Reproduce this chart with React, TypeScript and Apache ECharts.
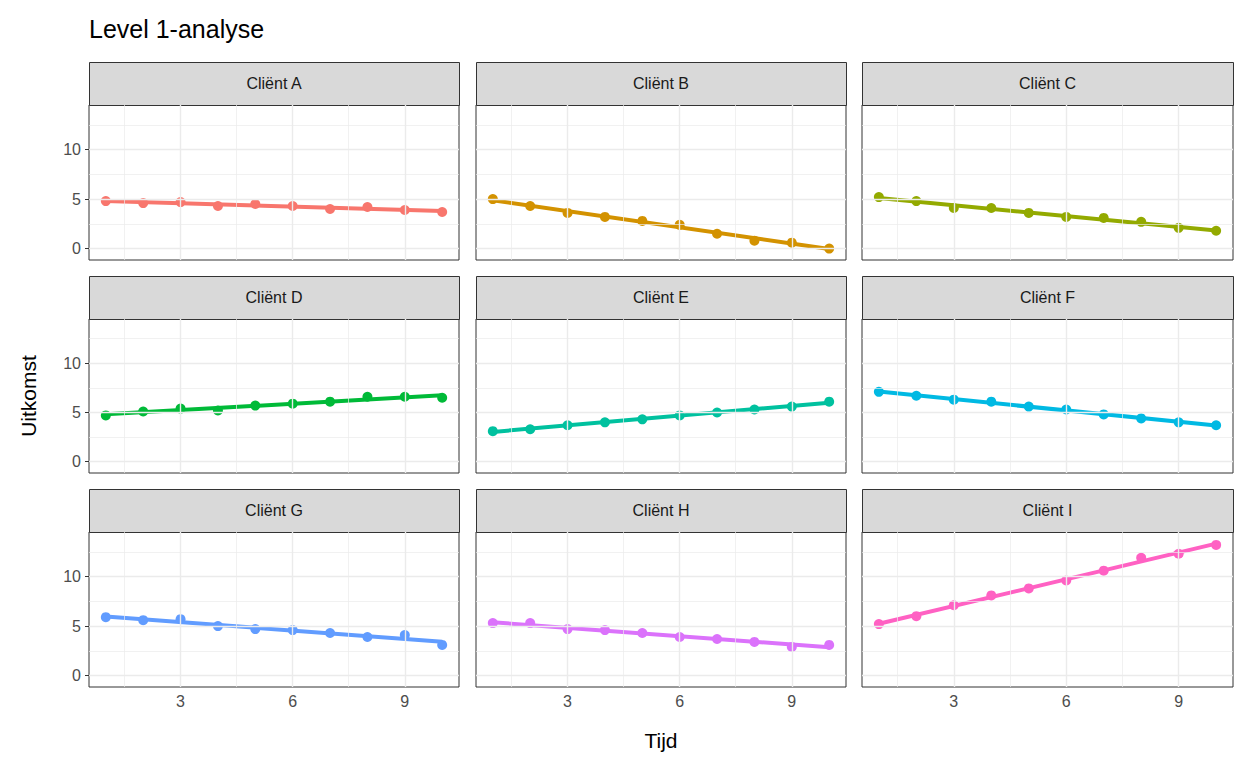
import React, { useEffect, useRef } from 'react';
import * as echarts from 'echarts';

const clients = ['Cliënt A', 'Cliënt B', 'Cliënt C', 'Cliënt D', 'Cliënt E', 'Cliënt F', 'Cliënt G', 'Cliënt H', 'Cliënt I'];
const tijd = [1, 2, 3, 4, 5, 6, 7, 8, 9, 10];
const values = [
  [4.8, 4.6, 4.7, 4.3, 4.5, 4.3, 4.0, 4.2, 3.9, 3.7],
  [5.0, 4.3, 3.6, 3.2, 2.8, 2.4, 1.5, 0.8, 0.6, 0.0],
  [5.2, 4.8, 4.1, 4.1, 3.6, 3.2, 3.1, 2.7, 2.1, 1.8],
  [4.7, 5.1, 5.4, 5.2, 5.7, 5.9, 6.1, 6.6, 6.6, 6.5],
  [3.1, 3.3, 3.7, 4.0, 4.3, 4.7, 5.0, 5.3, 5.6, 6.1],
  [7.1, 6.7, 6.3, 6.1, 5.6, 5.3, 4.8, 4.4, 4.0, 3.7],
  [5.9, 5.6, 5.7, 5.0, 4.7, 4.6, 4.3, 3.9, 4.1, 3.1],
  [5.3, 5.3, 4.7, 4.6, 4.3, 3.9, 3.7, 3.4, 2.9, 3.1],
  [5.2, 6.0, 7.1, 8.1, 8.8, 9.6, 10.6, 11.9, 12.3, 13.2],
];
const colors = ['#F8766D', '#D39200', '#93AA00', '#00BA38', '#00C19F', '#00B9E3', '#619CFF', '#DB72FB', '#FF61C3'];
const yTicks = [0, 5, 10];
const xTicks = [3, 6, 9];
const yGrid = [0, 2.5, 5, 7.5, 10, 12.5];
const xGrid = [1.5, 3, 4.5, 6, 7.5, 9, 10.5];

function fit(ys: number[]) {
  const n = tijd.length;
  const mx = tijd.reduce((a, b) => a + b, 0) / n;
  const my = ys.reduce((a, b) => a + b, 0) / n;
  let sxy = 0, sxx = 0;
  tijd.forEach((x, i) => { sxy += (x - mx) * (ys[i] - my); sxx += (x - mx) ** 2; });
  const b = sxy / sxx;
  return [[tijd[0], my + b * (tijd[0] - mx)], [tijd[n - 1], my + b * (tijd[n - 1] - mx)]];
}

const App: React.FC = () => {
  const ref = useRef<HTMLDivElement>(null);

  useEffect(() => {
    if (!ref.current) return;
    const chart = echarts.init(ref.current, null, { renderer: 'svg' });
    const lefts = [89, 476, 862];
    const widths = [370, 370, 371];
    const tops = [105, 319, 532];
    const heights = [155, 154, 155];
    const grids: any[] = [], xAxes: any[] = [], yAxes: any[] = [], series: any[] = [], graphic: any[] = [];

    clients.forEach((name, i) => {
      const r = Math.floor(i / 3), c = i % 3;
      grids.push({ left: lefts[c], top: tops[r], width: widths[c], height: heights[r], show: true, borderColor: '#333', borderWidth: 1, backgroundColor: '#fff' });
      xAxes.push({
        gridIndex: i, type: 'value', min: 0.55, max: 10.45,
        splitLine: { show: false }, axisLine: { show: false },
        axisTick: { show: r === 2, customValues: xTicks, length: 4, lineStyle: { color: '#333' } },
        axisLabel: { show: r === 2, customValues: xTicks, color: '#4d4d4d', fontSize: 16, margin: 6 },
      });
      yAxes.push({
        gridIndex: i, type: 'value', min: -1.15, max: 14.5,
        splitLine: { show: false }, axisLine: { show: false },
        axisTick: { show: c === 0, customValues: yTicks, length: 4, lineStyle: { color: '#333' } },
        axisLabel: { show: c === 0, customValues: yTicks, color: '#4d4d4d', fontSize: 16, margin: 8 },
      });
      const gl = (v: number, k: 'xAxis' | 'yAxis') => ({
        [k]: v, lineStyle: { color: '#ebebeb', width: (k === 'yAxis' ? v % 5 === 0 : v % 3 === 0) ? 1.4 : 0.7, type: 'solid' },
      });
      series.push({
        type: 'line', xAxisIndex: i, yAxisIndex: i, data: [], silent: true, z: 1,
        markLine: { silent: true, symbol: 'none', label: { show: false }, animation: false,
          data: [...yGrid.map((v) => gl(v, 'yAxis')), ...xGrid.map((v) => gl(v, 'xAxis'))] },
      });
      series.push({
        type: 'scatter', xAxisIndex: i, yAxisIndex: i, data: tijd.map((x, k) => [x, values[i][k]]),
        symbolSize: 10, itemStyle: { color: colors[i], opacity: 1 }, z: 3,
      });
      series.push({
        type: 'line', xAxisIndex: i, yAxisIndex: i, data: fit(values[i]), showSymbol: false,
        lineStyle: { color: colors[i], width: 4 }, z: 4,
      });
      graphic.push({ type: 'rect', shape: { x: lefts[c] + 0.5, y: tops[r] - 43 + 0.5, width: widths[c], height: 43 },
        style: { fill: '#d9d9d9', stroke: '#333', lineWidth: 1 } });
      graphic.push({ type: 'text', x: lefts[c] + widths[c] / 2, y: tops[r] - 21.5,
        style: { text: name, fill: '#1a1a1a', fontSize: 16, align: 'center', verticalAlign: 'middle', fontFamily: 'Liberation Sans, Arial' } });
    });

    graphic.push({ type: 'text', x: 89, y: 29, style: { text: 'Level 1-analyse', fontSize: 25, fill: '#000', verticalAlign: 'middle', fontFamily: 'Liberation Sans, Arial' } });
    graphic.push({ type: 'text', x: 661, y: 740, style: { text: 'Tijd', fontSize: 21, fill: '#000', align: 'center', verticalAlign: 'middle', fontFamily: 'Liberation Sans, Arial' } });
    graphic.push({ type: 'text', x: 28, y: 396, rotation: Math.PI / 2, style: { text: 'Uitkomst', fontSize: 21, fill: '#000', align: 'center', verticalAlign: 'middle', fontFamily: 'Liberation Sans, Arial' } });

    chart.setOption({
      animation: false,
      backgroundColor: '#fff',
      textStyle: { fontFamily: 'Liberation Sans, Arial' },
      grid: grids, xAxis: xAxes, yAxis: yAxes, series, graphic,
    });
    return () => chart.dispose();
  }, []);

  return <div ref={ref} style={{ position: 'fixed', left: 0, top: 0, width: 1248, height: 768 }} />;
};

export default App;
